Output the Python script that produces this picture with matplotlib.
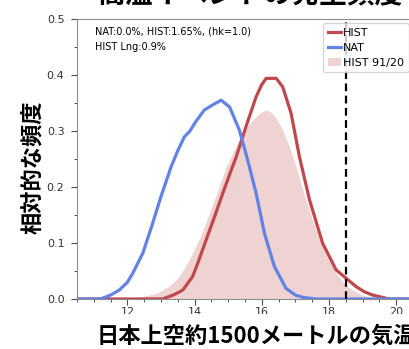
import matplotlib
matplotlib.use("Agg")
import matplotlib.pyplot as plt
from matplotlib.patches import Rectangle
from matplotlib.ticker import MultipleLocator

# ---- data ----
nat_x = [10.5, 11.2, 11.5, 11.76, 12.0, 12.16, 12.46, 12.75, 13.0, 13.3, 13.5, 13.7, 13.85, 14.05,
         14.29, 14.55, 14.79, 15.04, 15.33, 15.58, 15.83, 16.08, 16.375, 16.72, 17.0, 17.22, 17.6, 20.5]
nat_y = [0, 0, 0.007, 0.016, 0.03, 0.046, 0.082, 0.135, 0.183, 0.236, 0.265, 0.290, 0.299, 0.318,
         0.3375, 0.347, 0.355, 0.343, 0.302, 0.248, 0.189, 0.117, 0.058, 0.019, 0.007, 0.003, 0, 0]

hist_x = [10.5, 13.05, 13.4, 13.65, 13.94, 14.1, 14.34, 14.6, 14.84, 15.04, 15.24, 15.53, 15.83, 16.0,
          16.13, 16.43, 16.62, 16.87, 17.12, 17.42, 17.81, 18.21, 18.51, 18.81, 19.05, 19.30, 19.8, 20.5]
hist_y = [0, 0, 0.008, 0.016, 0.04, 0.065, 0.105, 0.148, 0.189, 0.222, 0.254, 0.308, 0.361, 0.383,
          0.394, 0.394, 0.379, 0.332, 0.254, 0.177, 0.0995, 0.052, 0.037, 0.022, 0.013, 0.007, 0, 0]

h9120_x = [10.5, 11.9, 12.4, 12.85, 13.2, 13.45, 13.7, 13.94, 14.2, 14.44, 14.7, 14.94, 15.2, 15.43,
           15.63, 15.83, 16.0, 16.13, 16.28, 16.43, 16.62, 16.82, 17.02, 17.22, 17.47, 17.71, 17.96,
           18.21, 18.45, 18.70, 19.0, 19.3, 19.8, 20.5]
h9120_y = [0, 0, 0.004, 0.010, 0.021, 0.034, 0.055, 0.082, 0.115, 0.153, 0.195, 0.236, 0.269, 0.296,
           0.313, 0.326, 0.334, 0.3375, 0.333, 0.323, 0.302, 0.272, 0.236, 0.195, 0.148, 0.105, 0.072,
           0.046, 0.028, 0.016, 0.007, 0.003, 0, 0]

threshold = 18.5
annot1 = "NAT:0.0%, HIST:1.65%, (hk=1.0)"
annot2 = "HIST Lng:0.9%"
title = "高温イベントの発生頻度"
xlabel = "日本上空約1500メートルの気温"
ylabel = "相対的な頻度"
xticks = [12, 14, 16, 18, 20]
yticks = [0.0, 0.1, 0.2, 0.3, 0.4, 0.5]

cjk = ['Noto Sans CJK JP', 'DejaVu Sans']

W, H = 410, 349
fig = plt.figure(figsize=(W / 100, H / 100), dpi=100)
ax = fig.add_axes([77 / W, (H - 299) / H, 336 / W, 280 / H])

ax.fill_between(h9120_x, h9120_y, color='#efd3d3', lw=0, label='HIST 91/20', zorder=1)
ax.plot(hist_x, hist_y, color='#c0484a', lw=2.3, label='HIST', zorder=3)
ax.plot(nat_x, nat_y, color='#6283e6', lw=2.3, label='NAT', zorder=4)
ax.axvline(threshold, color='black', lw=1.6, ls=(0, (3.5, 2)), zorder=5)

ax.set_xlim(10.5, 20.5)
ax.set_ylim(0, 0.5)
ax.set_xticks(xticks)
ax.set_yticks(yticks)
ax.xaxis.set_minor_locator(MultipleLocator(0.5))
ax.yaxis.set_minor_locator(MultipleLocator(0.05))
for s in ax.spines.values():
    s.set_color('0.55')
ax.tick_params(which='major', length=4, width=0.8, color='0.3', labelsize=8, labelcolor='0.2')
ax.tick_params(which='minor', length=2.5, width=0.7, color='0.3')
ax.tick_params(axis='y', which='major', pad=5)
ax.tick_params(axis='x', which='major', pad=2)
ax.yaxis.set_major_formatter(matplotlib.ticker.FormatStrFormatter('%.1f'))

h, l = ax.get_legend_handles_labels()
order = [l.index('HIST'), l.index('NAT'), l.index('HIST 91/20')]
leg = ax.legend([h[i] for i in order], [l[i] for i in order], loc='upper right', fontsize=8,
                handlelength=1.2, handletextpad=0.2, borderpad=0.4, labelspacing=0.45,
                borderaxespad=0.4, frameon=True, fancybox=True)
leg.get_frame().set_edgecolor('0.8')

ax.text(95 / W, (H - 31) / H, annot1, transform=fig.transFigure, fontsize=7, va='center', ha='left')
ax.text(95 / W, (H - 47) / H, annot2, transform=fig.transFigure, fontsize=7, va='center', ha='left')

# white band hiding lower part of tick labels (as in reference crop)
fig.patches.append(Rectangle((0, 0), 1, (H - 314) / H, transform=fig.transFigure,
                             facecolor='white', edgecolor='none', zorder=1))

fig.text(97 / W, (H - 336) / H, xlabel, family=cjk, fontsize=16, fontweight='bold',
         ha='left', va='center', zorder=2)
fig.text(33 / W, (H - 167) / H, ylabel, family=cjk, fontsize=16, fontweight='bold',
         ha='center', va='center', rotation=90, zorder=2)
fig.text(250 / W, (H - 9) / H, title, family=cjk, fontsize=20, fontweight='bold',
         ha='center', va='bottom', zorder=2)

fig.savefig('out.png', dpi=100)
